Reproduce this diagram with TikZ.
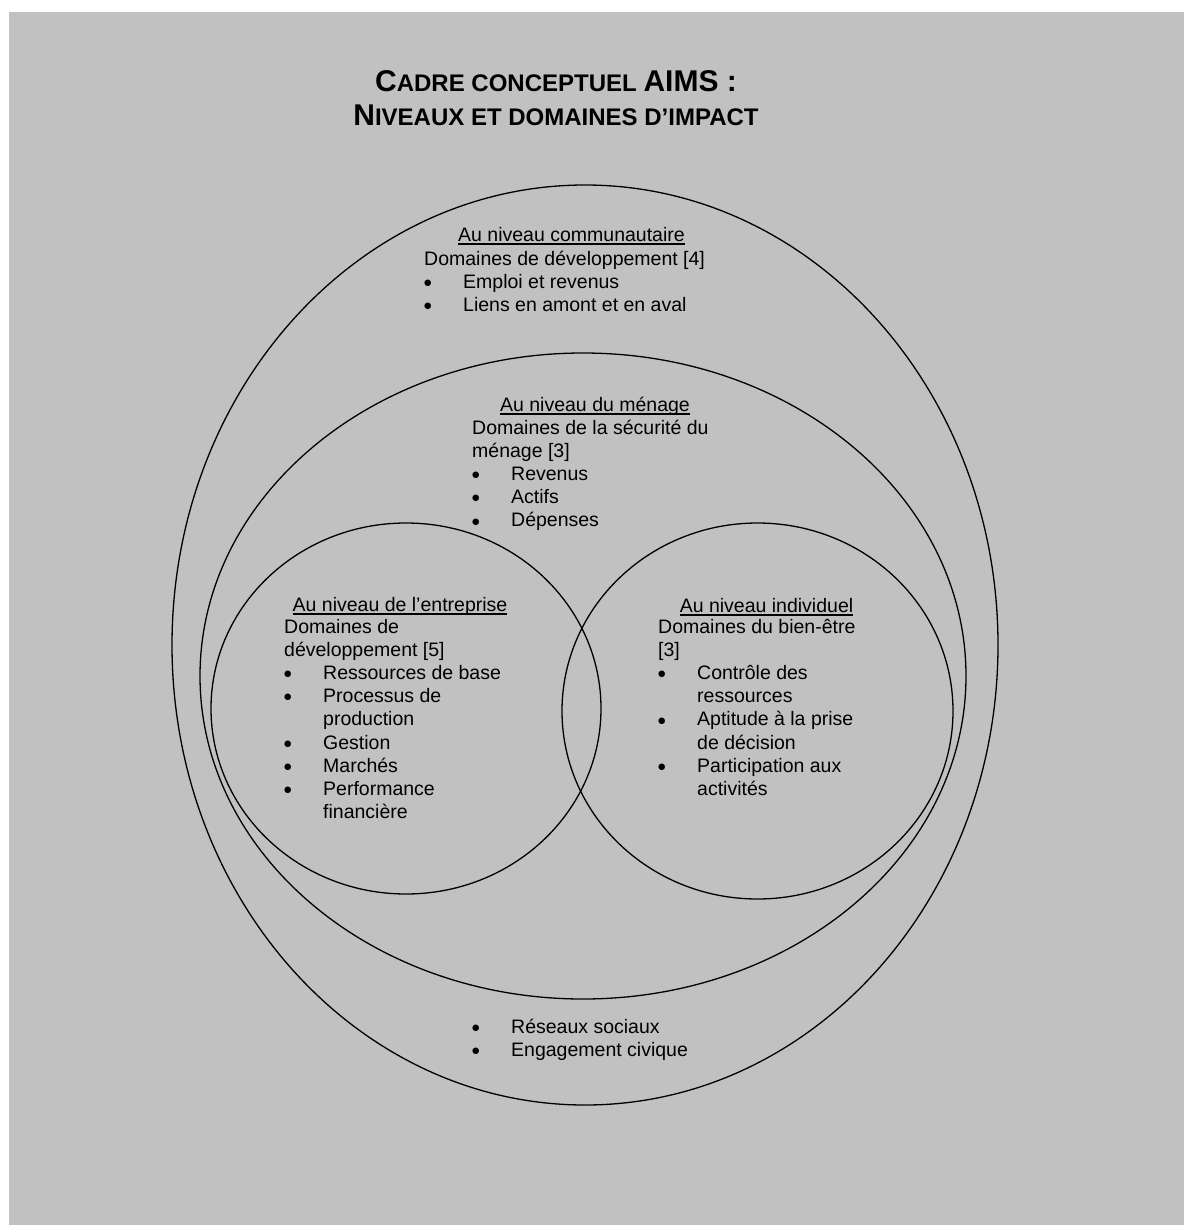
\documentclass[tikz,border=0pt]{standalone}
\usepackage{fontspec}
\setmainfont{Liberation Sans}
\newfontfamily\dejavu{DejaVu Sans}
\usetikzlibrary{shapes.geometric}
\definecolor{bg}{RGB}{193,193,193}
\newcommand\myul[1]{\setbox0\hbox{#1}\rlap{\rule[-4pt]{\wd0}{2.2pt}}\box0}
\newcommand\pline[1]{\hbox{#1}}
\newcommand\bigbul{\raisebox{2.7pt}{\dejavu\fontsize{8.5}{9}\selectfont ●}}
\newcommand\bitem[1]{\hbox{\makebox[39pt][l]{\bigbul}#1}}
\newcommand\citem[1]{\hbox{\kern39pt #1}}
\newcommand\txtblock[1]{\vtop{\baselineskip=23.2pt\lineskiplimit=-20pt\lineskip=0pt #1}}
\tikzset{
  ring/.style={draw=black, ellipse, line width=1.3pt, inner sep=0pt, outer sep=0pt},
  head/.style={anchor=base, inner sep=0pt, text=black, font=\fontsize{19.5}{23.2}\selectfont},
  body/.style={anchor=base west, inner sep=0pt, text=black, font=\fontsize{19.5}{23.2}\selectfont},
  ttl/.style={anchor=base, inner sep=0pt, text=black}
}
\begin{document}
\begin{tikzpicture}[x=1pt,y=-1pt]
\useasboundingbox (0,0) rectangle (1184,1225);
\fill[white] (0,0) rectangle (1184,1225);
\fill[bg] (9,12) rectangle (1184,1225);

% circles
\node[ring, minimum width=826pt, minimum height=920pt] (outer) at (585,645) {};
\node[ring, minimum width=766pt, minimum height=646pt] (menage) at (583,676) {};
\node[ring, minimum width=390pt, minimum height=371pt] (entr) at (406,708.5) {};
\node[ring, minimum width=391pt, minimum height=376pt] (indiv) at (757.5,711) {};

% title
\node[ttl] (t1) at (556,92) {\bfseries\fontsize{30}{36}\selectfont C{\fontsize{24}{30}\selectfont ADRE CONCEPTUEL }AIMS :};
\node[ttl] (t2) at (556,126) {\bfseries\fontsize{30}{36}\selectfont N{\fontsize{24}{30}\selectfont IVEAUX ET DOMAINES D’IMPACT}};

% community level
\node[head] (hcom) at (571.5,241) {\myul{Au niveau communautaire}};
\node[body] (bcom) at (424,265) {\txtblock{%
  \pline{Domaines de développement [4]}
  \bitem{Emploi et revenus}
  \bitem{Liens en amont et en aval}}};

% household level
\node[head] (hmen) at (595,411) {\myul{Au niveau du ménage}};
\node[body] (bmen) at (472,434) {\txtblock{%
  \pline{Domaines de la sécurité du}
  \pline{ménage [3]}
  \bitem{Revenus}
  \bitem{Actifs}
  \bitem{Dépenses}}};

% enterprise level
\node[head] (hent) at (400,611) {\myul{Au niveau de l’entreprise}};
\node[body] (bent) at (284,633) {\txtblock{%
  \pline{Domaines de}
  \pline{développement [5]}
  \bitem{Ressources de base}
  \bitem{Processus de}
  \citem{production}
  \bitem{Gestion}
  \bitem{Marchés}
  \bitem{Performance}
  \citem{financière}}};

% individual level
\node[head] (hind) at (766.5,612) {\myul{Au niveau individuel}};
\node[body] (bind) at (658,633) {\txtblock{%
  \pline{Domaines du bien-être}
  \pline{[3]}
  \bitem{Contrôle des}
  \citem{ressources}
  \bitem{Aptitude à la prise}
  \citem{de décision}
  \bitem{Participation aux}
  \citem{activités}}};

% community bottom items
\node[body] (bsoc) at (472,1033) {\txtblock{%
  \bitem{Réseaux sociaux}
  \bitem{Engagement civique}}};
\end{tikzpicture}
\end{document}
